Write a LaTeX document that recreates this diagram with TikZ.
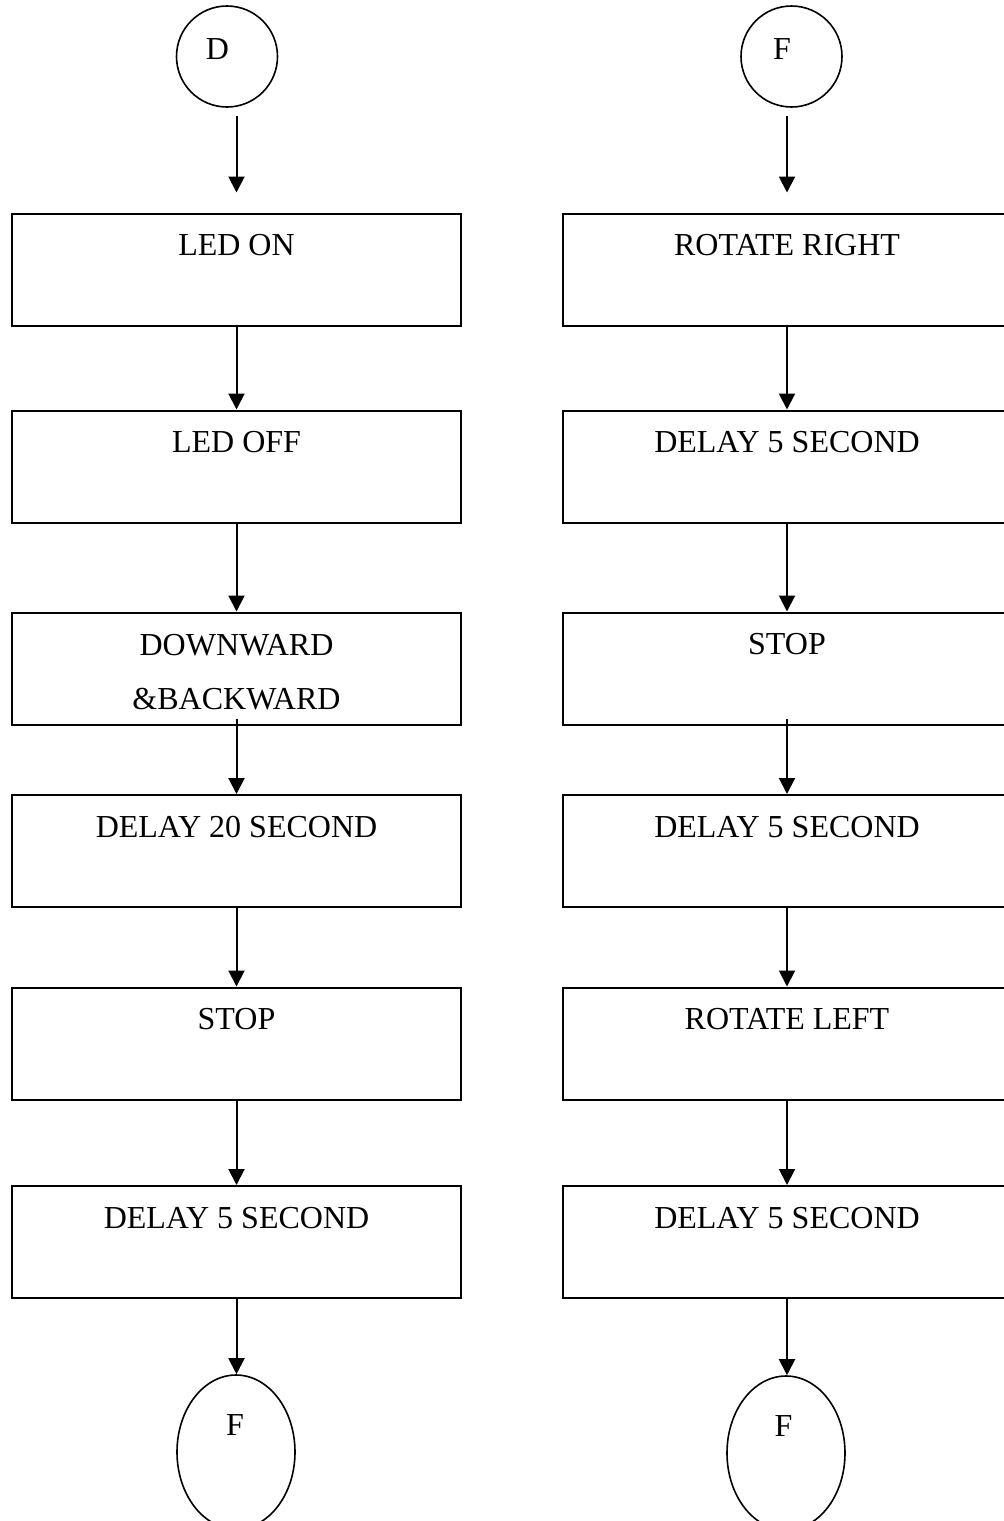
\documentclass[tikz,border=0pt]{standalone}
\usepackage{fontspec}
\setmainfont{Liberation Serif}
\usetikzlibrary{shapes.geometric,arrows.meta,positioning}
\tikzset{
  blk/.style={draw=black, line width=1pt, rectangle, minimum width=224.5pt, minimum height=56pt, inner sep=0pt},
  ring/.style={draw=black, line width=0.8pt, circle, minimum size=50.5pt, inner sep=0pt},
  oval/.style={draw=black, line width=0.8pt, ellipse, minimum width=59pt, minimum height=77pt, inner sep=0pt},
  lbl/.style={font=\fontsize{16}{27}\selectfont, inner sep=0pt, align=center},
  flow/.style={line width=1pt, -{Triangle[width=8pt,length=8pt]}}
}
\begin{document}
\begin{tikzpicture}[x=0.5pt,y=-0.5pt]
\useasboundingbox (0,0) rectangle (1003,1521);
\node[ring] (d) at (227,56.5) {}; \node[lbl] (dtxt) at (217.5,49) {D};
\node[ring] (f) at (791.5,56.5) {}; \node[lbl] (ftxt) at (782,49) {F};
\node[blk] (l1) at (236.5,269.5) {}; \node[blk] (r1) at (787,269.5) {};
\node[blk] (l2) at (236.5,466.5) {}; \node[blk] (r2) at (787,466.5) {};
\node[blk] (l3) at (236.5,668.5) {}; \node[blk] (r3) at (787,668.5) {};
\node[blk] (l4) at (236.5,851) {}; \node[blk] (r4) at (787,851) {};
\node[blk] (l5) at (236.5,1043.5) {}; \node[blk] (r5) at (787,1043.5) {};
\node[blk] (l6) at (236.5,1242) {}; \node[blk] (r6) at (787,1242) {};
\node[oval] (lf) at (236,1452) {}; \node[lbl] (lftxt) at (235,1425) {F};
\node[oval] (rf) at (786,1453) {}; \node[lbl] (rftxt) at (783.5,1426) {F};
\node[lbl] (t1) at ([yshift=-16.5pt]l1.north) {LED ON};
\node[lbl] (t2) at ([yshift=-16.5pt]l2.north) {LED OFF};
\node[lbl] (t3) at ([yshift=-30.5pt]l3.north) {DOWNWARD\\\&BACKWARD};
\node[lbl] (t4) at ([yshift=-16.5pt]l4.north) {DELAY 20 SECOND};
\node[lbl] (t5) at ([yshift=-16.5pt]l5.north) {STOP};
\node[lbl] (t6) at ([yshift=-16.5pt]l6.north) {DELAY 5 SECOND};
\node[lbl] (s1) at ([yshift=-16.5pt]r1.north) {ROTATE RIGHT};
\node[lbl] (s2) at ([yshift=-16.5pt]r2.north) {DELAY 5 SECOND};
\node[lbl] (s3) at ([yshift=-16.5pt]r3.north) {STOP};
\node[lbl] (s4) at ([yshift=-16.5pt]r4.north) {DELAY 5 SECOND};
\node[lbl] (s5) at ([yshift=-16.5pt]r5.north) {ROTATE LEFT};
\node[lbl] (s6) at ([yshift=-16.5pt]r6.north) {DELAY 5 SECOND};
\draw[flow] ([yshift=-4pt]d.south -| l1.north) -- ([yshift=10pt]l1.north);
\draw[flow] ([yshift=-4pt]f.south -| r1.north) -- ([yshift=10pt]r1.north);
\draw[flow] (l1) -- (l2); \draw[flow] (l2) -- (l3);
\draw[flow] ([yshift=3.5pt]l3.south) -- (l4.north);
\draw[flow] (l4) -- (l5); \draw[flow] (l5) -- (l6);
\draw[flow] (l6.south) -- (lf.north -| l6.south);
\draw[flow] (r1) -- (r2); \draw[flow] (r2) -- (r3);
\draw[flow] ([yshift=3.5pt]r3.south) -- (r4.north);
\draw[flow] (r4) -- (r5); \draw[flow] (r5) -- (r6);
\draw[flow] (r6.south) -- (rf.north -| r6.south);
\end{tikzpicture}
\end{document}
